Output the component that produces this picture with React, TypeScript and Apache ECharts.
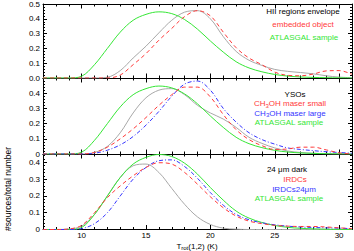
import React, { useEffect, useRef } from "react";
import * as echarts from "echarts";

// Temperature grid (K)
const tRot = [7, 8, 9, 10, 11, 12, 13, 14, 15, 16, 17, 18, 19, 20, 21, 22, 23, 24, 25, 26, 27, 28, 29, 30, 31];

// ATLASGAL sample (shared by all panels)
const atlasgal = [0, 0, 0, 0.012, 0.09, 0.2, 0.31, 0.39, 0.43, 0.447, 0.435, 0.395, 0.33, 0.25, 0.175, 0.11, 0.068, 0.042, 0.024, 0.013, 0.007, 0.004, 0.002, 0.001, 0];

// Panel 1
const hiiEnvelope = [0, 0, 0, 0, 0, 0.005, 0.05, 0.135, 0.215, 0.305, 0.39, 0.445, 0.455, 0.4, 0.28, 0.18, 0.12, 0.085, 0.058, 0.045, 0.037, 0.028, 0.015, 0.006, 0.002];
const embeddedObject = [0, 0, 0, 0, 0, 0, 0.02, 0.09, 0.165, 0.255, 0.335, 0.415, 0.455, 0.42, 0.31, 0.205, 0.135, 0.09, 0.04, 0.018, 0.015, 0.027, 0.048, 0.05, 0.025];

// Panel 2
const ysos = [0, 0, 0, 0, 0.01, 0.05, 0.14, 0.27, 0.37, 0.42, 0.43, 0.39, 0.32, 0.27, 0.23, 0.175, 0.11, 0.07, 0.04, 0.02, 0.01, 0.005, 0.002, 0, 0];
const maserSmall = [0, 0, 0, 0, 0.01, 0.045, 0.1, 0.165, 0.24, 0.32, 0.39, 0.44, 0.44, 0.375, 0.26, 0.16, 0.095, 0.055, 0.03, 0.033, 0.045, 0.045, 0.027, 0.008, 0];
const maserLarge = [0, 0, 0, 0, 0.005, 0.025, 0.06, 0.115, 0.19, 0.28, 0.38, 0.46, 0.48, 0.42, 0.3, 0.21, 0.14, 0.095, 0.065, 0.04, 0.03, 0.022, 0.015, 0.01, 0.005];

// Panel 3
const dark24 = [0, 0, 0.003, 0.02, 0.09, 0.2, 0.31, 0.38, 0.39, 0.34, 0.245, 0.15, 0.075, 0.03, 0.008, 0.002, 0, 0, 0, 0, 0, 0, 0, 0, 0];
const irdcs = [0, 0, 0.003, 0.025, 0.1, 0.19, 0.26, 0.32, 0.37, 0.398, 0.39, 0.34, 0.27, 0.195, 0.13, 0.08, 0.05, 0.035, 0.025, 0.02, 0.018, 0.018, 0.015, 0.01, 0.005];
const irdcs24 = [0, 0, 0, 0.005, 0.035, 0.1, 0.2, 0.3, 0.37, 0.41, 0.415, 0.375, 0.305, 0.22, 0.145, 0.09, 0.058, 0.04, 0.028, 0.02, 0.015, 0.012, 0.01, 0.008, 0.005];

// Ticks
const xMajorTicks = [10, 15, 20, 25, 30];
const xMinorTicks = [8, 9, 11, 12, 13, 14, 16, 17, 18, 19, 21, 22, 23, 24, 26, 27, 28, 29];
const yMajorTicks = [0, 0.1, 0.2, 0.3, 0.4, 0.5];
const yLabelsTop = [0, 0.1, 0.2, 0.3, 0.4, 0.5];
const yLabelsLower = [0, 0.1, 0.2, 0.3, 0.4];
const yMax = [0.5, 0.5, 0.45];

const FONT = '"Liberation Sans", Arial, Helvetica, sans-serif';
const GRAY = "#a8a8a8";
const RED = "#ff3a3a";
const BLUE = "#3535ff";
const GREEN = "#35e635";

export default function App() {
  const ref = useRef<HTMLDivElement>(null);

  useEffect(() => {
    document.body.style.margin = "0";
    if (!ref.current) return;
    const chart = echarts.init(ref.current, null, { renderer: "svg" });

    const yMinorTicks: number[] = [];
    for (let i = 1; i < 25; i++) {
      if (i % 5 !== 0) yMinorTicks.push(Math.round(i * 2) / 100);
    }

    const grids = [
      { left: 43, top: 3, width: 309, height: 75 },
      { left: 43, top: 78, width: 309, height: 76 },
      { left: 43, top: 154, width: 309, height: 75.5 },
    ];

    const tickLine = { color: "#000", width: 1 };
    const xAxes: any[] = [];
    const yAxes: any[] = [];
    grids.forEach((_, g) => {
      const xb = {
        type: "value",
        gridIndex: g,
        min: 7,
        max: 31,
        splitLine: { show: false },
      };
      xAxes.push(
        {
          ...xb,
          position: "bottom",
          axisLine: { show: true, onZero: false, lineStyle: tickLine },
          axisTick: { show: true, inside: true, length: 4.5, customValues: xMajorTicks, lineStyle: tickLine },
          axisLabel: { show: g === 2, customValues: xMajorTicks, margin: 2, fontSize: 8, color: "#000", fontFamily: FONT },
        },
        {
          ...xb,
          position: "bottom",
          axisLine: { show: false, onZero: false },
          axisTick: { show: true, inside: true, length: 2.5, customValues: xMinorTicks, lineStyle: tickLine },
          axisLabel: { show: false },
        },
        {
          ...xb,
          position: "top",
          axisLine: { show: true, onZero: false, lineStyle: tickLine },
          axisTick: { show: true, inside: true, length: 4.5, customValues: xMajorTicks, lineStyle: tickLine },
          axisLabel: { show: false },
        },
        {
          ...xb,
          position: "top",
          axisLine: { show: false, onZero: false },
          axisTick: { show: true, inside: true, length: 2.5, customValues: xMinorTicks, lineStyle: tickLine },
          axisLabel: { show: false },
        }
      );
      const majors = yMajorTicks.filter((v) => v <= yMax[g] + 1e-9);
      const minors = yMinorTicks.filter((v) => v < yMax[g]);
      const labels = g === 0 ? yLabelsTop : yLabelsLower;
      const yb = {
        type: "value",
        gridIndex: g,
        min: 0,
        max: yMax[g],
        splitLine: { show: false },
      };
      yAxes.push(
        {
          ...yb,
          position: "left",
          axisLine: { show: true, onZero: false, lineStyle: tickLine },
          axisTick: { show: true, inside: true, length: 4, customValues: majors, lineStyle: tickLine },
          axisLabel: {
            show: true,
            customValues: labels,
            margin: 3,
            fontSize: 8,
            color: "#000",
            fontFamily: FONT,
            formatter: (v: number) => (g === 0 ? v.toFixed(1) : v === 0 ? "0" : v.toFixed(1)),
          },
        },
        {
          ...yb,
          position: "left",
          axisLine: { show: false, onZero: false },
          axisTick: { show: true, inside: true, length: 2, customValues: minors, lineStyle: tickLine },
          axisLabel: { show: false },
        },
        {
          ...yb,
          position: "right",
          axisLine: { show: true, onZero: false, lineStyle: tickLine },
          axisTick: { show: true, inside: true, length: 4, customValues: majors, lineStyle: tickLine },
          axisLabel: { show: false },
        },
        {
          ...yb,
          position: "right",
          axisLine: { show: false, onZero: false },
          axisTick: { show: true, inside: true, length: 2, customValues: minors, lineStyle: tickLine },
          axisLabel: { show: false },
        }
      );
    });

    const pairs = (vals: number[]) => tRot.map((t, i) => [t, vals[i]]);
    const mk = (name: string, g: number, vals: number[], color: string, type: any, z: number) => ({
      name,
      type: "line",
      xAxisIndex: g * 4,
      yAxisIndex: g * 4,
      data: pairs(vals),
      showSymbol: false,
      smooth: 0.35,
      z,
      lineStyle: { color, width: 1, type },
    });

    const series = [
      mk("HII regions envelope", 0, hiiEnvelope, GRAY, "solid", 2),
      mk("ATLASGAL sample", 0, atlasgal, GREEN, "solid", 3),
      mk("embedded object", 0, embeddedObject, RED, [4, 3], 5),
      mk("YSOs", 1, ysos, GRAY, "solid", 2),
      mk("ATLASGAL sample ", 1, atlasgal, GREEN, "solid", 3),
      mk("CH3OH maser large", 1, maserLarge, BLUE, [4, 2, 1, 2], 4),
      mk("CH3OH maser small", 1, maserSmall, RED, [4, 3], 5),
      mk("24 um dark", 2, dark24, GRAY, "solid", 2),
      mk("ATLASGAL sample  ", 2, atlasgal, GREEN, "solid", 3),
      mk("IRDCs24um", 2, irdcs24, BLUE, [4, 2, 1, 2], 4),
      mk("IRDCs", 2, irdcs, RED, [4, 3], 5),
    ];

    const txt = (x: number, y: number, text: string, fill: string, extra: any = {}) => ({
      type: "text",
      x,
      y,
      z: 100,
      style: {
        text,
        fill,
        fontSize: 8,
        fontFamily: FONT,
        align: "center",
        verticalAlign: "middle",
        ...extra,
      },
    });
    const subRich = (fill: string) => ({
      rich: { s: { fontSize: 6, fill, fontFamily: FONT, verticalAlign: "bottom", lineHeight: 10 } },
      lineHeight: 10,
    });

    const graphic = [
      txt(303, 11, "HII regions envelope", "#000"),
      txt(303, 24, "embedded object", RED),
      txt(304, 37, "ATLASGAL sample", GREEN),
      txt(295, 94, "YSOs", "#000"),
      txt(290, 103.5, "CH{s|3}OH maser small", RED, subRich(RED)),
      txt(290, 113, "CH{s|3}OH maser large", BLUE, subRich(BLUE)),
      txt(289, 122.5, "ATLASGAL sample", GREEN),
      txt(287, 169, "24 \u03bcm dark", "#000"),
      txt(295, 179.5, "IRDCs", RED),
      txt(294, 189, "IRDCs24\u03bcm", BLUE),
      txt(289, 198.5, "ATLASGAL sample", GREEN),
      txt(197, 246, "T{s|rot}(1,2) (K)", "#000", { fontSize: 8, ...subRich("#000") }),
      {
        type: "text",
        x: 8,
        y: 189,
        rotation: Math.PI / 2,
        z: 100,
        style: {
          text: "#sources/total number",
          fill: "#000",
          fontSize: 8.5,
          fontFamily: FONT,
          align: "center",
          verticalAlign: "middle",
        },
      },
    ];

    chart.setOption({
      animation: false,
      backgroundColor: "#fff",
      textStyle: { fontFamily: FONT },
      grid: grids,
      xAxis: xAxes,
      yAxis: yAxes,
      series,
      graphic,
    });

    return () => chart.dispose();
  }, []);

  return <div ref={ref} style={{ width: 354, height: 251 }} />;
}
